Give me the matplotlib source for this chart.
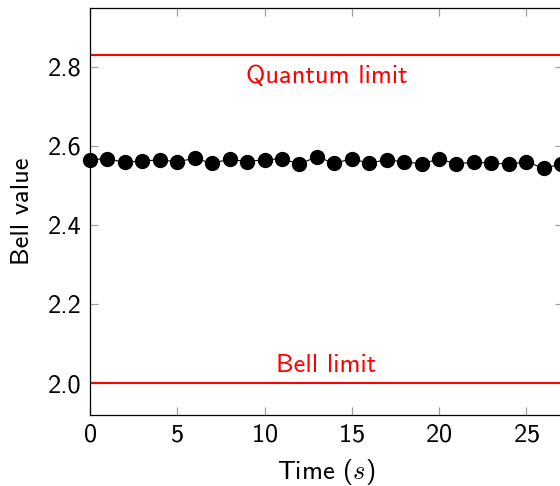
import numpy as np
import matplotlib

matplotlib.use("Agg")
import matplotlib.pyplot as plt

plt.rcParams.update(
    {
        "font.family": ["cmss10", "DejaVu Sans"],
        "mathtext.fontset": "cm",
        "axes.formatter.use_mathtext": True,
        "font.size": 19,
        "axes.linewidth": 0.9,
    }
)

# Bell parameter measured once per second
time_s = np.arange(0, 28)
bell_value = [
    2.565, 2.567, 2.558, 2.562, 2.564, 2.560, 2.568, 2.556, 2.566, 2.560,
    2.565, 2.567, 2.554, 2.572, 2.556, 2.567, 2.556, 2.565, 2.559, 2.555,
    2.566, 2.555, 2.558, 2.557, 2.553, 2.560, 2.543, 2.554,
]

QUANTUM_LIMIT = 2 * np.sqrt(2)   # Tsirelson bound
BELL_LIMIT = 2.0                 # classical CHSH bound

XMAX = 27.1
FS = 19

fig = plt.figure(figsize=(5.6, 4.86), dpi=100)
# axes run off the right edge of the canvas
ax = fig.add_axes([90 / 560, 1 - 415 / 486, XMAX * 17.45 / 560, 407 / 486])

ax.axhline(QUANTUM_LIMIT, color="red", lw=1.5, zorder=2)
ax.axhline(BELL_LIMIT, color="red", lw=1.5, zorder=2)
ax.text(XMAX / 2, 2.776, "Quantum limit", color="red", ha="center",
        va="center", fontsize=FS)
ax.text(XMAX / 2, 2.046, "Bell limit", color="red", ha="center",
        va="center", fontsize=FS)

ax.plot(time_s, bell_value, color="black", lw=0.8, marker="o",
        markersize=10, zorder=3, clip_on=False)

ax.set_xlim(0, XMAX)
ax.set_ylim(1.92, 2.948)
ax.set_xticks([0, 5, 10, 15, 20, 25])
ax.set_yticks([2.0, 2.2, 2.4, 2.6, 2.8])
ax.set_yticklabels(["2.0", "2.2", "2.4", "2.6", "2.8"])
ax.tick_params(direction="in", length=6, width=0.9, color="#a0a0a0",
               top=True, right=True, labelsize=FS, pad=6)

ax.set_xlabel("Time ($s$)", fontsize=FS, labelpad=8)
ax.set_ylabel("Bell value", fontsize=FS, labelpad=10)

fig.savefig("out.png", dpi=100)
